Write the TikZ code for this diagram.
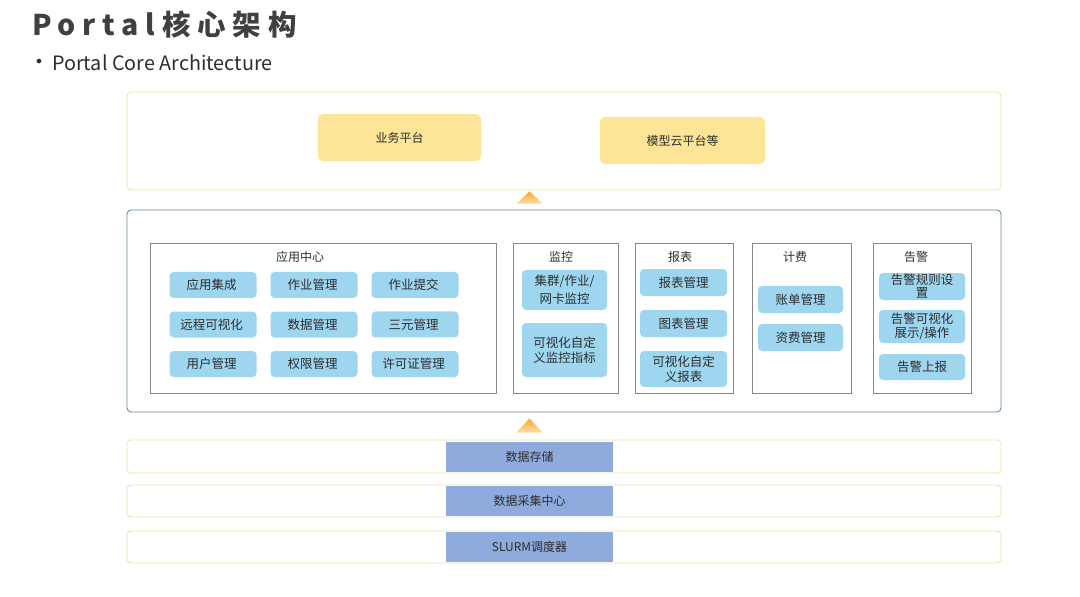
\documentclass[tikz,border=0pt]{standalone}
\usepackage{fontspec}
\setmainfont{Noto Sans CJK SC}
\newfontfamily\titlefont[LetterSpace=24]{Noto Sans CJK SC}
\newfontfamily\symfont{DejaVu Sans}
\usetikzlibrary{positioning,matrix,calc}
\definecolor{txtgray}{RGB}{45,45,45}
\definecolor{titlegray}{RGB}{64,64,64}
\definecolor{platfill}{RGB}{253,228,150}
\definecolor{palebord}{RGB}{236,230,175}
\definecolor{tealbord}{RGB}{100,140,150}
\definecolor{grpbord}{RGB}{135,135,135}
\definecolor{cellblue}{RGB}{158,214,240}
\definecolor{barblue}{RGB}{143,170,220}
\definecolor{arrtop}{RGB}{246,168,58}
\definecolor{arrbot}{RGB}{253,222,165}

\begin{document}
\begin{tikzpicture}[x=1pt,y=-1pt,
	every node/.style={font=\fontsize{12.5}{15}\selectfont, text=txtgray},
	layer/.style={draw=#1, line width=0.9pt, rounded corners=4pt,%
		minimum width=874pt, inner sep=0pt},
	plat/.style={fill=platfill, rounded corners=5pt, minimum height=47pt,%
		font=\fontsize{12}{14}\selectfont},
	grp/.style={draw=grpbord, line width=0.8pt, minimum height=150pt, inner sep=0pt},
	grptitle/.style={font=\fontsize{12}{14}\selectfont, inner sep=0pt},
	fn/.style={fill=cellblue, rounded corners=4pt, align=center, inner sep=0pt},
	bar/.style={fill=barblue, minimum width=167pt, minimum height=30pt,%
		font=\fontsize{12}{14}\selectfont},
	uparrow/.style={top color=arrtop, bottom color=arrbot, draw=none}]
\useasboundingbox (0,0) rectangle (1080,597);

% heading
\node[anchor=west, inner sep=0pt, text=titlegray,%
	font=\titlefont\bfseries\fontsize{28.5}{31}\selectfont] (title) at (32,25) {Portal核心架构};
\node[inner sep=0pt, font=\symfont\fontsize{16}{18}\selectfont] (dot) at (39,63) {•};
\node[anchor=west, inner sep=0pt, font=\fontsize{19.8}{22}\selectfont] (sub) at (52,63) {Portal Core Architecture};

% top layer
\node[layer=palebord, minimum height=98pt] (top) at (564,141) {};
\node[plat, minimum width=163pt] (biz) at (399.5,137.5) {业务平台};
\node[plat, minimum width=165pt] (model) at (682.5,140.5) {模型云平台等};

% middle layer
\node[layer=tealbord, minimum height=202pt] (mid) at (564,311) {};
\node[grp, minimum width=346pt] (app) at (323,318) {};
\node[grp, minimum width=105pt] (mon) at (565.5,318) {};
\node[grp, minimum width=98pt] (rep) at (684,318) {};
\node[grp, minimum width=99pt] (bill) at (801.5,318) {};
\node[grp, minimum width=98pt] (alarm) at (922,318) {};

\node[grptitle] (appT) at (300,257) {应用中心};
\node[grptitle] (monT) at (561,257) {监控};
\node[grptitle] (repT) at (680,257) {报表};
\node[grptitle] (billT) at (795,257) {计费};
\node[grptitle] (alarmT) at (916,257) {告警};

\matrix (M) [matrix of nodes,%
	column sep=14pt,%
	row sep=13.5pt,%
	nodes={fn, minimum width=87pt, minimum height=26pt}] at (314,324.5)
{
应用集成 & 作业管理 & 作业提交 \\
远程可视化 & 数据管理 & 三元管理 \\
用户管理 & 权限管理 & 许可证管理 \\
};

\node[fn, minimum width=85pt, minimum height=40pt,%
	font=\fontsize{12.5}{18}\selectfont] (mon1) at (564.5,290) {集群/作业/\\网卡监控};
\node[fn, minimum width=85pt, minimum height=54pt] (mon2) at (564.5,350) {可视化自定\\义监控指标};

\node[fn, minimum width=87pt, minimum height=27pt] (rep1) at (683.5,282.5) {报表管理};
\node[fn, minimum width=87pt, minimum height=27pt] (rep2) at (683.5,323.5) {图表管理};
\node[fn, minimum width=87pt, minimum height=36pt] (rep3) at (683.5,369) {可视化自定\\义报表};

\node[fn, minimum width=85pt, minimum height=27pt] (bill1) at (800.5,299.5) {账单管理};
\node[fn, minimum width=85pt, minimum height=27pt] (bill2) at (800.5,337.5) {资费管理};

\node[fn, minimum width=86pt, minimum height=27pt,%
	font=\fontsize{12.5}{13}\selectfont] (al1) at (922,286.5) {告警规则设\\置};
\node[fn, minimum width=86pt, minimum height=33pt,%
	font=\fontsize{12.5}{14}\selectfont] (al2) at (922,326.5) {告警可视化\\展示/操作};
\node[fn, minimum width=86pt, minimum height=26pt] (al3) at (922,367) {告警上报};

% bottom layers
\node[layer=palebord, minimum height=33pt] (L1) at (564,456.5) {};
\node[layer=palebord, minimum height=32pt] (L2) at (564,501) {};
\node[layer=palebord, minimum height=32pt] (L3) at (564,547) {};
\node[bar] (bar1) at (529.5,457) {数据存储};
\node[bar] (bar2) at (529.5,501) {数据采集中心};
\node[bar] (bar3) at (529.5,546.5) {SLURM调度器};

% arrows between layers
\shade[uparrow] ($(top.south -| bar1)+(0,1)$) -- ($(mid.north -| bar1)+(13,-6)$)%
	-- ($(mid.north -| bar1)+(-13,-6)$) -- cycle;
\shade[uparrow] ($(mid.south -| bar1)+(0,6)$) -- ($(L1.north -| bar1)+(13,-7)$)%
	-- ($(L1.north -| bar1)+(-13,-7)$) -- cycle;
\end{tikzpicture}
\end{document}
